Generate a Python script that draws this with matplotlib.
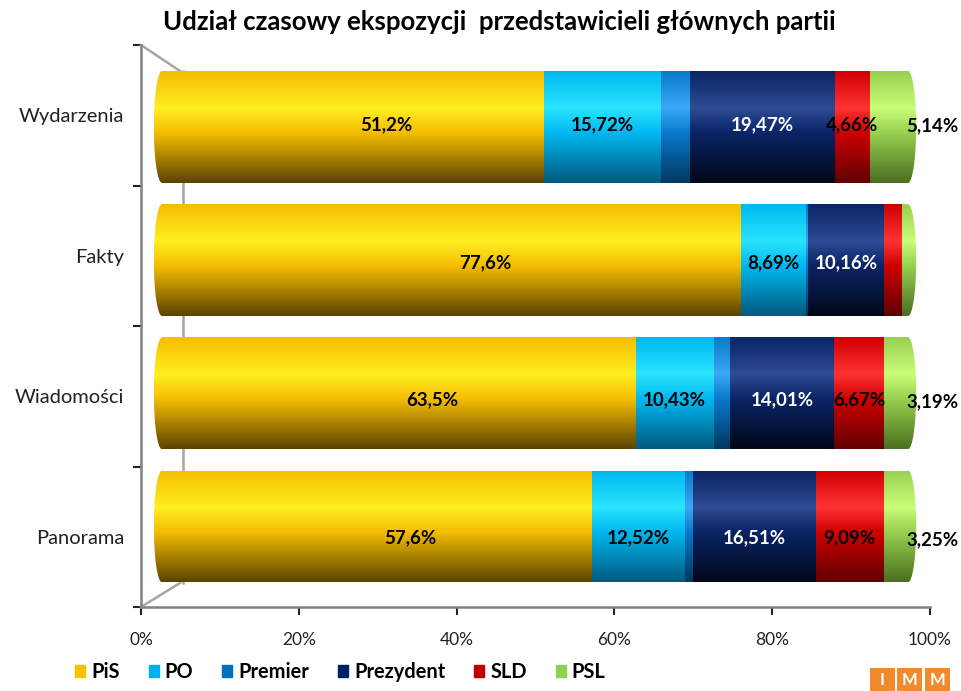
import numpy as np
import matplotlib
matplotlib.use("Agg")
import matplotlib.pyplot as plt
from matplotlib.colors import to_rgb
from matplotlib.lines import Line2D
from matplotlib.patches import Ellipse, Rectangle

plt.rcParams['font.family'] = ['Lato', 'DejaVu Sans']

# data
categories = ['Wydarzenia', 'Fakty', 'Wiadomości', 'Panorama']
series = ['PiS', 'PO', 'Premier', 'Prezydent', 'SLD', 'PSL']
pis = [51.2, 77.6, 63.5, 57.6]
po = [15.72, 8.69, 10.43, 12.52]
premier = [3.81, 0.3, 2.2, 1.03]
prezydent = [19.47, 10.16, 14.01, 16.51]
sld = [4.66, 2.5, 6.67, 9.09]
psl = [5.14, 0.75, 3.19, 3.25]
tick_labels = ['0%', '20%', '40%', '60%', '80%', '100%']

values = [pis, po, premier, prezydent, sld, psl]

# colours: base, highlight, dark (cylinder shading)
base_cols = ['#F5BE00', '#00B8F0', '#0A7ACC', '#0A2466', '#D00000', '#98D050']
hi_cols = ['#FFEE22', '#2AE4FF', '#3AA8F5', '#2E4C94', '#FF3333', '#C8FF78']
dark_cols = ['#5C4400', '#005A80', '#003860', '#000818', '#600000', '#4A7020']
legend_cols = ['#FFC000', '#00B0F0', '#0070C0', '#002060', '#C00000', '#92D050']
label_cols = ['black', 'black', 'black', 'white', 'black', 'black']

W, H = 962, 691
fig = plt.figure(figsize=(W / 100, H / 100), dpi=100)


def fx(x):
    return x / W


def fy(y):
    return 1 - y / H


def gradient(j, n=120):
    t = np.linspace(0, 1, n)
    stops = [0.0, 0.33, 0.55, 1.0]
    cols = [to_rgb(base_cols[j]), to_rgb(hi_cols[j]), to_rgb(base_cols[j]), to_rgb(dark_cols[j])]
    img = np.zeros((n, 1, 3))
    for k in range(3):
        img[:, 0, k] = np.interp(t, stops, [c[k] for c in cols])
    return img


# back frame (axis lines, ticks, category labels)
axf = fig.add_axes([fx(141), fy(607), fx(930) - fx(141), fy(45) - fy(607)])
axf.set_xlim(0, 100)
axf.set_ylim(0, len(categories))
for s in ['top', 'right']:
    axf.spines[s].set_visible(False)
for s in ['left', 'bottom']:
    axf.spines[s].set_color('#808080')
    axf.spines[s].set_linewidth(1.8)
axf.set_xticks(np.linspace(0, 100, 6))
axf.set_xticklabels(tick_labels, fontsize=12.5, color='#222222')
axf.tick_params(axis='x', direction='out', length=6, width=1.5, color='#222222', pad=12)
axf.set_yticks(np.arange(len(categories) + 1), minor=True)
axf.set_yticks(np.arange(len(categories)) + 0.5)
axf.set_yticklabels(categories[::-1], fontsize=14.5, color='#222222')
axf.tick_params(axis='y', which='major', length=0, pad=12)
axf.tick_params(axis='y', which='minor', direction='out', length=6, width=1.5, color='#222222')

# 3d wall edges
for (x0, y0, x1, y1) in [(141, 45, 180, 71), (141, 607, 180, 583), (183, 71, 183, 583)]:
    axf.add_line(Line2D([fx(x0), fx(x1)], [fy(y0), fy(y1)], transform=fig.transFigure,
                        color='#A6A6A6', lw=1.8, clip_on=False))

# bars (front plane): 0..100 spans 162..908 px, with room for the caps
x_lo, x_hi = -1.6, 101.6
ppu = (908 - 162) / 100
axb = fig.add_axes([fx(162 + x_lo * ppu), fy(593), fx((x_hi - x_lo) * ppu), fy(60.4) - fy(593)])
axb.set_xlim(x_lo, x_hi)
axb.set_ylim(-0.5, len(categories) - 0.5)
axb.axis('off')

bar_h = 0.84
cap_w = 1.1
ypos = np.arange(len(categories))[::-1]

for i, cat in enumerate(categories):
    y = ypos[i]
    # labels sit on a slightly wider (perspective) spacing than the bars
    ly = y + (y - 1.5) * 0.034 - 0.035
    row = [v[i] for v in values]
    total = sum(row)
    # left and right cylinder caps
    last = max(j for j in range(len(series)) if row[j] > 0)
    for xc, j in [(0, 0), (total, last)]:
        e = Ellipse((xc, y), 2 * cap_w, bar_h, facecolor='none', edgecolor='none')
        axb.add_patch(e)
        im = axb.imshow(gradient(j), extent=[xc - cap_w, xc + cap_w, y - bar_h / 2, y + bar_h / 2],
                        aspect='auto', interpolation='bilinear', origin='upper', zorder=1)
        im.set_clip_path(e)
    left = 0
    for j, name in enumerate(series):
        v = row[j]
        b = axb.barh(y, v, left=left, height=bar_h, color=base_cols[j], zorder=2)[0]
        im = axb.imshow(gradient(j), extent=[left, left + v, y - bar_h / 2, y + bar_h / 2],
                        aspect='auto', interpolation='bilinear', origin='upper', zorder=3)
        im.set_clip_path(b)
        if name != 'Premier' and v >= 3:
            txt = str(v).replace('.', ',') + '%'
            if name == 'PiS':
                axb.annotate(txt, (left + v / 2, ly), xytext=(24, 0), textcoords='offset points',
                             ha='center', va='center', fontsize=13.5, fontweight='bold',
                             color=label_cols[j], zorder=5)
            elif name == 'PSL':
                axb.annotate(txt, (total, ly), xytext=(-1, -1), textcoords='offset points',
                             ha='left', va='center', fontsize=13.5, fontweight='bold',
                             color=label_cols[j], zorder=5, annotation_clip=False)
            else:
                axb.text(left + v / 2, ly, txt, ha='center', va='center', fontsize=13.5,
                         fontweight='bold', color=label_cols[j], zorder=5)
        left += v
axb.set_xlim(x_lo, x_hi)
axb.set_ylim(-0.5, len(categories) - 0.5)

# title
fig.text(fx(499), fy(22), 'Udział czasowy ekspozycji  przedstawicieli głównych partii',
         ha='center', va='center', fontsize=18.5, fontweight='bold')

# legend
handles = [Rectangle((0, 0), 1, 1, color=c) for c in legend_cols]
leg = fig.legend(handles, series, loc='center left', bbox_to_anchor=(fx(75), fy(672)), ncol=6,
                 frameon=False, borderpad=0, borderaxespad=0, handlelength=0.5, handleheight=0.5,
                 handletextpad=0.3, columnspacing=1.45, prop={'weight': 'bold', 'size': 14.4})

# IMM logo
for k, letter in enumerate(['I', 'M', 'M']):
    x0 = 870 + k * 27.5
    fig.patches.append(Rectangle((fx(x0), fy(691)), fx(25), fy(668) - fy(691),
                                 transform=fig.transFigure, facecolor='#F08A2C', edgecolor='none'))
    fig.text(fx(x0 + 12.5), fy(680), letter, ha='center', va='center', color='white',
             fontsize=12, fontweight='bold')

fig.savefig('out.png', dpi=100)
